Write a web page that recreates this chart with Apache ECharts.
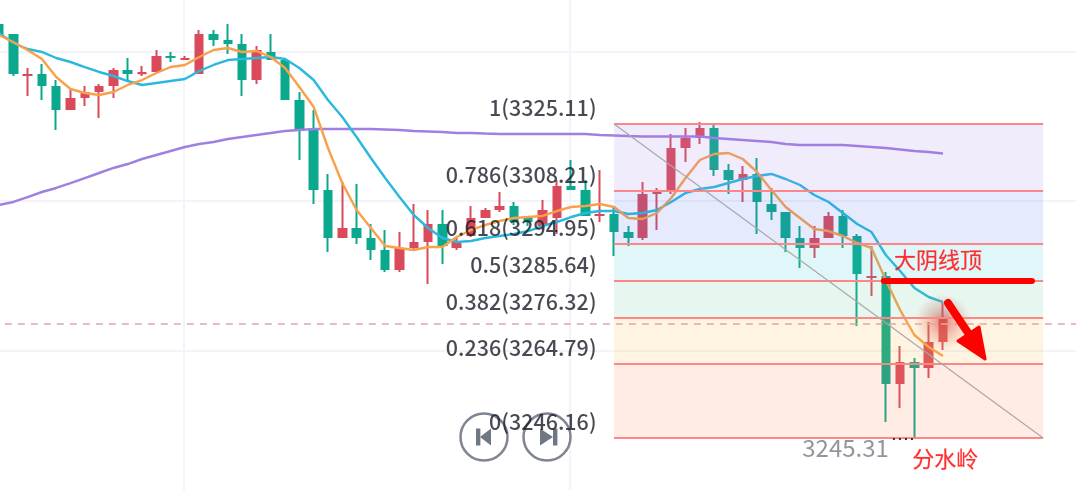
<!DOCTYPE html>
<html><head><meta charset="utf-8">
<style>html,body{margin:0;padding:0;background:#fff}#c{width:1076px;height:490px}</style>
<script src="https://cdn.jsdelivr.net/npm/echarts@6/dist/echarts.min.js"></script>
</head><body><div id="c"></div>
<script>
// each row: open, close, low, high
const candles = [
[3350.00,3347.49,3347.24,3350.26],[3347.49,3337.93,3337.18,3347.74],[3337.40,3337.45,3332.15,3339.19],[3337.43,3334.92,3331.15,3340.20],
[3334.42,3328.88,3323.60,3336.17],[3328.88,3331.40,3328.63,3333.66],[3331.90,3332.91,3329.64,3334.67],[3333.41,3334.42,3326.62,3335.17],
[3334.92,3338.44,3331.65,3339.19],[3338.44,3337.93,3335.67,3341.71],[3337.90,3337.95,3337.18,3339.69],[3338.44,3341.96,3338.19,3343.72],
[3341.98,3341.93,3340.70,3343.22],[3341.43,3341.48,3341.20,3342.21],[3337.93,3347.49,3337.68,3348.75],[3347.49,3346.48,3344.72,3348.75],
[3345.98,3345.48,3342.71,3350.26],[3344.98,3336.43,3332.15,3347.74],[3336.43,3343.47,3335.17,3344.72],[3342.96,3341.45,3341.20,3347.74],
[3340.95,3331.40,3331.15,3341.71],[3330.89,3323.85,3316.06,3333.16],[3323.35,3308.77,3304.99,3328.63],[3308.26,3296.70,3292.92,3312.54],
[3296.70,3298.71,3296.44,3310.53],[3298.71,3296.70,3294.94,3310.02],[3296.19,3293.68,3290.91,3299.96],[3293.18,3288.65,3287.90,3298.46],
[3288.65,3293.68,3287.90,3297.95],[3294.18,3295.19,3293.43,3304.99],[3295.69,3299.71,3284.88,3303.49],[3299.71,3294.68,3289.91,3303.49],
[3294.18,3295.19,3293.43,3296.44],[3297.20,3301.22,3296.70,3304.49],[3301.72,3303.23,3301.47,3303.99],[3303.74,3304.24,3302.98,3308.01],
[3304.24,3300.72,3299.71,3305.50],[3301.22,3300.72,3299.46,3301.98],[3299.71,3303.23,3298.46,3306.00],[3301.72,3309.27,3297.45,3311.03],
[3309.27,3308.77,3308.52,3316.06],[3308.26,3302.23,3301.98,3311.03],[3302.20,3302.25,3300.47,3313.54],[3302.23,3298.20,3291.92,3304.49],
[3297.70,3296.70,3294.43,3299.46],[3296.70,3307.26,3295.94,3310.53],[3307.74,3307.79,3298.46,3309.02],[3308.26,3318.82,3307.51,3322.60],
[3319.33,3321.34,3315.56,3324.10],[3321.84,3323.85,3320.08,3325.61],[3323.85,3313.80,3312.03,3325.11],[3313.29,3311.28,3307.51,3315.05],
[3311.28,3312.29,3305.50,3314.55],[3312.29,3305.75,3297.45,3316.56],[3304.74,3303.23,3300.97,3309.02],[3302.73,3296.70,3292.92,3302.98],
[3296.19,3294.18,3288.90,3299.46],[3294.18,3296.19,3291.42,3299.46],[3296.70,3301.72,3296.44,3302.98],[3301.72,3297.20,3293.93,3303.49],
[3296.70,3287.65,3274.32,3297.45],[3286.62,3286.67,3281.86,3294.43],[3286.64,3259.99,3250.18,3287.90],[3259.99,3265.01,3253.70,3269.29],
[3265.01,3264.01,3246.15,3266.27],[3264.01,3270.04,3261.24,3275.32],[3270.55,3276.08,3268.28,3280.10]
];
const maOrange = [3347.49,3345.73,3343.72,3341.45,3336.93,3333.91,3332.91,3332.40,3333.16,3334.92,3336.17,3337.93,3339.44,3339.95,3341.96,3343.72,3344.22,3343.22,3343.47,3341.96,3339.19,3334.42,3329.39,3319.08,
3310.27,3303.49,3298.96,3294.43,3293.93,3293.43,3294.18,3294.18,3296.70,3298.46,3299.71,3300.72,3301.47,3301.72,3301.98,3303.23,3304.24,3304.49,3304.99,3304.24,3301.47,3301.22,3302.73,3306.50,3311.53,3316.06,3317.57,3317.82,3316.31,3313.04,3308.52,3304.24,3301.47,3298.71,3298.20,3296.95,3295.19,3293.93,3285.88,3278.34,3272.05,3269.03,3266.77];
const maBlue = [3347.99,3345.48,3343.97,3343.22,3341.71,3340.70,3339.44,3338.19,3337.18,3335.92,3334.92,3335.42,3335.92,3336.43,3338.44,3339.95,3341.20,3341.45,3341.71,3341.96,3341.45,3339.19,3336.17,3331.15,
3326.87,3321.84,3316.56,3311.53,3306.75,3302.23,3298.96,3296.44,3295.44,3295.69,3296.44,3296.95,3297.45,3298.20,3299.46,3300.47,3301.72,3302.73,3303.23,3303.23,3302.48,3302.73,3303.49,3305.50,3307.76,3308.77,3309.27,3310.27,3311.28,3312.03,3312.54,3311.28,3309.77,3307.26,3305.50,3302.73,3299.96,3297.95,3292.17,3288.15,3283.87,3281.61,3280.35];
const maPurple = [3304.74,3305.50,3306.75,3308.01,3309.02,3310.27,3311.53,3312.79,3314.05,3315.05,3316.31,3317.32,3318.32,3319.33,3320.08,3320.58,3321.34,3321.84,3322.34,3322.85,3323.35,3323.60,3323.85,3323.85,
3323.85,3323.85,3323.85,3323.73,3323.60,3323.35,3323.23,3323.10,3322.85,3322.85,3322.72,3322.60,3322.60,3322.60,3322.60,3322.60,3322.60,3322.60,3322.34,3322.22,3322.09,3321.97,3321.97,3321.97,3321.97,3321.97,3321.59,3321.34,3321.09,3320.84,3320.58,3320.08,3319.83,3319.83,3319.83,3319.83,3319.58,3319.33,3319.08,3318.70,3318.32,3318.07,3317.69];
const categories = Array.from({length:76},(_,i)=>String(i));
const fibRatios = ['1','0.786','0.618','0.5','0.382','0.236','0'];
const fibPrices = [3325.11,3308.21,3294.95,3285.64,3276.32,3264.79,3246.16];
const fibFills = ['rgba(162,128,228,.15)','rgba(82,122,235,.15)','rgba(55,195,215,.15)','rgba(95,195,142,.15)','rgba(255,182,55,.15)','rgba(255,128,82,.15)'];
const fibFrom = 43, fibTo = 73;
const gridPrices = [3343.22,3305.75,3268.03];
const gridIndexes = [12.93,39.92];
const lastPrice = 3274.95;
const lowPrice = 3245.31;
const resistance = [[61.87,3285.64],[72.22,3285.64]];
const arrowShaft = [[66.35,3280.10],[68.5,3268.6]];
const arrowHead = [[67.05,3270.55,68.52,3274.07,68.94,3266.02]];
const notes = [{t:'大阴线顶',x:65.65,y:3290.91},{t:'分水岭',x:66.15,y:3240.87}];
const dots = [[62.5,3245.9],[64.04,3245.9]];

const FONT = '"Noto Sans CJK SC","Noto Sans",sans-serif';
const noMark = {symbol:'none',silent:true,animation:false,label:{show:false},emphasis:{disabled:true}};
function btn(cx,cy,bx,tip,base){
  return {type:'group',z:3,children:[
    {type:'circle',z:3,shape:{cx,cy,r:23.5},style:{fill:'rgba(255,255,255,.75)',stroke:'#7f8593',lineWidth:2.5}},
    {type:'rect',z:3,shape:{x:bx,y:cy-8.5,width:4.4,height:17},style:{fill:'#6f7684'}},
    {type:'polygon',z:3,shape:{points:[[tip,cy],[base,cy-8.5],[base,cy+8.5]]},style:{fill:'#6f7684'}}
  ]};
}
const chart = echarts.init(document.getElementById('c'),null,{renderer:'canvas'});
chart.setOption({
  animation:false,
  backgroundColor:'#fff',
  grid:{left:-8.15,top:0,width:14.303*76,height:490,containLabel:false,outerBoundsMode:'none'},
  xAxis:[
    {type:'category',data:categories,show:false,boundaryGap:true},
    {type:'value',min:-0.5,max:75.5,show:false,splitLine:{show:false}}
  ],
  yAxis:{type:'value',min:3233.08,max:3356.29,show:false,splitLine:{show:false},scale:true},
  graphic:{elements:[btn(484,437,476,480,491),btn(547,437,553,553,540)]},
  series:[
    {type:'line',xAxisIndex:1,data:[],z:0,symbol:'none',
      markLine:Object.assign({},noMark,{z:0,lineStyle:{color:'#f3f3f9',width:2,type:'solid'},
        data:gridPrices.map(v=>({yAxis:v})).concat(gridIndexes.map(v=>({xAxis:v})))})},
    {type:'candlestick',data:candles,barWidth:8,z:2,silent:true,
      itemStyle:{color:'#da4a5b',color0:'#0aa88c',borderColor:'#da4a5b',borderColor0:'#0aa88c',borderWidth:2}},
    {type:'line',data:maPurple,symbol:'none',z:3,silent:true,lineStyle:{color:'#9f80e2',width:2.4}},
    {type:'line',data:maBlue,symbol:'none',z:3,silent:true,lineStyle:{color:'#2ab8de',width:2.4}},
    {type:'line',data:maOrange,symbol:'none',z:3,silent:true,lineStyle:{color:'#f9a04a',width:2.4}},
    {type:'scatter',z:4,silent:true,data:[[66,3275.3]],symbolSize:56,
      itemStyle:{color:{type:'radial',x:.5,y:.5,r:.5,colorStops:[{offset:0,color:'rgba(205,55,65,.85)'},{offset:.4,color:'rgba(215,85,90,.5)'},{offset:1,color:'rgba(220,110,110,0)'}]}}},
    {type:'line',xAxisIndex:1,data:[],z:5,symbol:'none',
      markArea:{z:5,silent:true,animation:false,label:{show:false},
        data:fibFills.map((c,i)=>[{coord:[fibFrom,fibPrices[i]],itemStyle:{color:c}},{coord:[fibTo,fibPrices[i+1]]}])},
      markLine:Object.assign({},noMark,{z:6,
        data:fibPrices.map(v=>[{coord:[fibFrom,v],lineStyle:{color:'#fb8787',width:2,type:'solid'}},{coord:[fibTo,v]}])
          .concat([[{coord:[fibFrom,fibPrices[0]],lineStyle:{color:'#a9a9a9',width:1.2,type:'solid'}},{coord:[fibTo,fibPrices[6]]}]])
          .concat([{yAxis:lastPrice,lineStyle:{color:'#e8a2ab',width:1.5,type:[7,6]}}])})},
    {type:'scatter',z:10,silent:true,symbolSize:1,itemStyle:{color:'rgba(0,0,0,0)'},
      data:fibPrices.map((v,i)=>[fibFrom,v]),
      label:{show:true,position:'left',distance:17,offset:[0,-16],fontFamily:FONT,fontSize:21.5,fontWeight:500,color:'#1a1d28',
        formatter:p=>fibRatios[p.dataIndex]+'('+fibPrices[p.dataIndex].toFixed(2)+')'}},
    {type:'scatter',z:10,silent:true,symbolSize:1,itemStyle:{color:'rgba(0,0,0,0)'},
      data:[[64,lowPrice]],
      label:{show:true,position:'left',distance:25,offset:[0,7],fontFamily:FONT,fontSize:24,color:'#787b86',formatter:()=>lowPrice.toFixed(2)}},
    {type:'line',xAxisIndex:1,z:10,silent:true,symbol:'none',data:dots,lineStyle:{color:'#333',width:2,type:[2,4]}},
    {type:'line',xAxisIndex:1,z:12,silent:true,symbol:'none',data:resistance,lineStyle:{color:'#ff0000',width:6,cap:'round'}},
    {type:'line',xAxisIndex:1,z:12,silent:true,symbol:'none',data:arrowShaft,lineStyle:{color:'#ff0000',width:8,cap:'round'}},
    {type:'custom',xAxisIndex:1,z:12,silent:true,data:arrowHead,encode:{x:[0,2,4],y:[1,3,5]},
      renderItem:(p,api)=>({type:'polygon',
        shape:{points:[api.coord([api.value(0),api.value(1)]),api.coord([api.value(2),api.value(3)]),api.coord([api.value(4),api.value(5)])]},
        style:{fill:'#ff0000',stroke:'#ff0000',lineWidth:3,lineJoin:'round'}})},
    {type:'scatter',xAxisIndex:1,z:13,silent:true,symbolSize:1,itemStyle:{color:'rgba(0,0,0,0)'},
      data:notes.map(n=>[n.x,n.y]),
      label:{show:true,position:'inside',fontFamily:FONT,fontSize:22,color:'#ff0000',textBorderColor:'rgba(255,0,0,.35)',textBorderWidth:0.6,formatter:p=>notes[p.dataIndex].t}}
  ]
});
</script></body></html>
